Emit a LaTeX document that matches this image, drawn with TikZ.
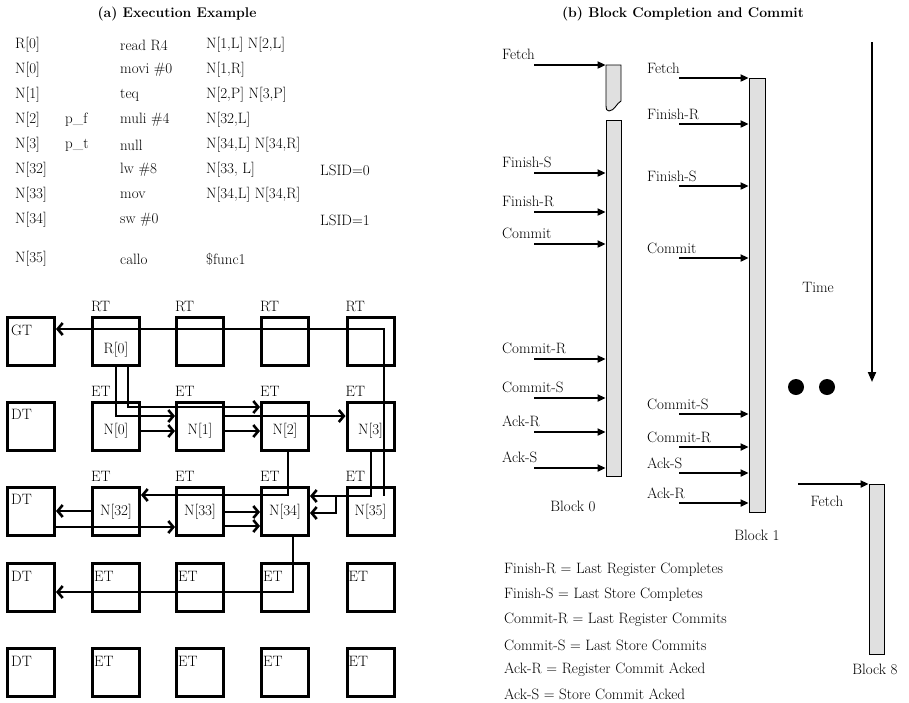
\documentclass[tikz,border=0pt]{standalone}
\usepackage{tikz}
\usetikzlibrary{positioning,arrows.meta,calc}
\newcommand{\dgtxt}{\fontsize{15}{17}\selectfont}
\newcommand{\dghead}{\fontsize{14}{16}\selectfont\bfseries}
\tikzset{
  tbox/.style={draw,line width=3pt,minimum width=47pt,minimum height=48pt,inner sep=0pt},
  tag/.style={font=\dgtxt,inner sep=0pt},
  garr/.style={line width=2pt,-{Straight Barb[length=5pt,width=12pt,line width=2.6pt]}},
  tarr/.style={line width=2.2pt,-{Triangle[length=8pt,width=7pt]}},
  bar/.style={draw,fill=black!12,line width=0.9pt,inner sep=0pt},
  lbl/.style={font=\dgtxt,inner sep=0pt},
  dot/.style={circle,fill=black,minimum size=16pt,inner sep=0pt},
}

\begin{document}
\begin{tikzpicture}[x=1pt,y=-1pt]
  \useasboundingbox (0,0) rectangle (909,702);
  % titles
  \node[font=\dghead] (ta) at (177,14) {(a) Execution Example};
  \node[font=\dghead] (tb) at (683,14) {(b) Block Completion and Commit};

  % instruction listing
  \node[lbl,anchor=west] (nm0) at (15,45) {R[0]};
  \node[lbl,anchor=west] (op0) at (120,45) {read R4};
  \node[lbl,anchor=west] (ds0) at (206,45) {N[1,L] N[2,L]};
  \node[lbl,anchor=west] (nm1) at (15,70) {N[0]};
  \node[lbl,anchor=west] (op1) at (120,70) {movi \#0};
  \node[lbl,anchor=west] (ds1) at (206,70) {N[1,R]};
  \node[lbl,anchor=west] (nm2) at (15,95) {N[1]};
  \node[lbl,anchor=west] (op2) at (120,95) {teq};
  \node[lbl,anchor=west] (ds2) at (206,95) {N[2,P] N[3,P]};
  \node[lbl,anchor=west] (nm3) at (15,120) {N[2]};
  \node[lbl,anchor=west] (pr3) at (65,120) {p\_f};
  \node[lbl,anchor=west] (op3) at (120,120) {muli \#4};
  \node[lbl,anchor=west] (ds3) at (206,120) {N[32,L]};
  \node[lbl,anchor=west] (nm4) at (15,145) {N[3]};
  \node[lbl,anchor=west] (pr4) at (65,145) {p\_t};
  \node[lbl,anchor=west] (op4) at (120,145) {null};
  \node[lbl,anchor=west] (ds4) at (206,145) {N[34,L] N[34,R]};
  \node[lbl,anchor=west] (nm5) at (15,170) {N[32]};
  \node[lbl,anchor=west] (op5) at (120,170) {lw \#8};
  \node[lbl,anchor=west] (ds5) at (206,170) {N[33, L]};
  \node[lbl,anchor=west] (ls5) at (320,170) {LSID=0};
  \node[lbl,anchor=west] (nm6) at (15,195) {N[33]};
  \node[lbl,anchor=west] (op6) at (120,195) {mov};
  \node[lbl,anchor=west] (ds6) at (206,195) {N[34,L] N[34,R]};
  \node[lbl,anchor=west] (nm7) at (15,220) {N[34]};
  \node[lbl,anchor=west] (op7) at (120,220) {sw \#0};
  \node[lbl,anchor=west] (ls7) at (320,220) {LSID=1};
  \node[lbl,anchor=west] (nm8) at (15,259) {N[35]};
  \node[lbl,anchor=west] (op8) at (120,259) {callo};
  \node[lbl,anchor=west] (ds8) at (206,259) {\$func1};

  % tile grid
  \foreach \r/\yy in {1/341,2/426,3/511,4/587.5,5/672.5}
    \foreach \c/\xx in {1/31,2/116,3/200,4/285,5/370.5}
      \node[tbox] (b\r\c) at (\xx,\yy) {};
  \node[tag,anchor=north west] (g11) at ($(b11.north west)+(5,9)$) {GT};
  \foreach \r in {2,3,4,5}
    \node[tag,anchor=north west] (g\r1) at ($(b\r1.north west)+(5,9)$) {DT};
  \foreach \r in {4,5}
    \foreach \c in {2,3,4,5}
      \node[tag,anchor=north west] (g\r\c) at ($(b\r\c.north west)+(3,9)$) {ET};
  \foreach \c in {2,3,4,5} {
    \node[tag,anchor=south west] (h1\c) at ($(b1\c.north west)+(0,-4)$) {RT};
    \node[tag,anchor=south west] (h2\c) at ($(b2\c.north west)+(0,-4)$) {ET};
    \node[tag,anchor=south west] (h3\c) at ($(b3\c.north west)+(0,-4)$) {ET};
  }
  \node[tag] (r0) at ($(b12)+(0,9)$) {R[0]};
  \node[tag] (n0) at ($(b22)+(0,5)$) {N[0]};
  \node[tag] (n1) at ($(b23)+(0,5)$) {N[1]};
  \node[tag] (n2) at ($(b24)+(0,5)$) {N[2]};
  \node[tag] (n3) at ($(b25)+(0,5)$) {N[3]};
  \node[tag] (n32) at ($(b32)+(0,1)$) {N[32]};
  \node[tag] (n33) at ($(b33)+(0,1)$) {N[33]};
  \node[tag] (n34) at ($(b34)+(0,1)$) {N[34]};
  \node[tag] (n35) at ($(b35)+(0,1)$) {N[35]};

  % dataflow between tiles
  \draw[garr] (b12.south) |- ($(b23.west)+(0,-10)$);
  \draw[garr] ($(b12.south)+(12,0)$) |- ($(b24.west)+(0,-19)$);
  \draw[garr] ($(b22.east)+(0,5)$) -- ($(b23.west)+(0,5)$);
  \draw[garr] ($(b23.east)+(0,5)$) -- ($(b24.west)+(0,5)$);
  \draw[garr] ($(b23.east)+(0,-10)$) -- ($(b25.west)+(0,-10)$);
  \draw[garr] ($(b24.south)+(3,0)$) |- ($(b32.east)+(0,-16)$);
  \draw[garr] (b32.west) -- (b31.east);
  \draw[garr] ($(b31.east)+(0,16)$) -- ($(b33.west)+(0,16)$);
  \draw[garr] ($(b33.east)+(0,1)$) -- ($(b34.west)+(0,1)$);
  \draw[garr] ($(b33.east)+(0,15)$) -- ($(b34.west)+(0,15)$);
  \draw[garr] (b25.south) |- ($(b34.east)+(0,-15)$);
  \coordinate (jn) at ($(b34.east)+(26,-15)$);
  \draw[garr] (jn) |- ($(b34.east)+(0,2)$);
  \draw[garr] ($(b35.north)+(13,10)$) |- ($(b11.east)+(0,-12)$);
  \draw[garr] ($(b34.south)+(8,0)$) |- ($(b41.east)+(0,4.5)$);

  % block 0
  \draw[bar] (606,65) -- (621,65) -- (621,101) .. controls (617,103) and (614,111) .. (609,111)
    .. controls (606.5,111) and (606,109) .. (606,106) -- cycle;
  \node[bar,minimum width=15pt,minimum height=356pt] (blk0) at (613.5,298) {};
  \foreach \lab/\yy/\i in {Fetch/65/1,Finish-S/173/2,Finish-R/212/3,Commit/244/4,
      Commit-R/359/5,Commit-S/398/6,Ack-R/432/7,Ack-S/468/8} {
    \coordinate (p\i) at (534,\yy);
    \draw[tarr] (p\i) -- (p\i -| blk0.west);
    \node[lbl,anchor=base west] (q\i) at (502,{\yy-6}) {\lab};
  }
  \node[lbl] (k0) at (573,506) {Block 0};

  % block 1
  \node[bar,minimum width=16pt,minimum height=434pt] (blk1) at (757,295) {};
  \foreach \lab/\yy/\i in {Fetch/78/1,Finish-R/124/2,Finish-S/186/3,Commit/258/4,
      Commit-S/414/5,Commit-R/447/6,Ack-S/473/7,Ack-R/503/8} {
    \coordinate (s\i) at (679,\yy);
    \draw[tarr] (s\i) -- (s\i -| blk1.west);
    \node[lbl,anchor=base west] (u\i) at (647,{\yy-5}) {\lab};
  }
  \node[lbl] (k1) at (757,535) {Block 1};

  % block 8
  \node[bar,minimum width=15pt,minimum height=170pt] (blk8) at (876.5,569) {};
  \coordinate (s9) at (798,484);
  \draw[tarr] (s9) -- (s9 -| blk8.west);
  \node[lbl] (u9) at (827,501) {Fetch};
  \node[lbl] (k8) at (875,669) {Block 8};

  % time axis
  \coordinate (t0) at (872,42);
  \coordinate (t1) at (872,382);
  \draw[line width=2pt,-{Triangle[length=10pt,width=8pt]}] (t0) -- (t1);
  \node[lbl] (tm) at (818,287) {Time};
  \node[dot] (d1) at (796,387) {};
  \node[dot] (d2) at (827,387) {};

  % legend
  \node[lbl,anchor=west] (lg1) at (504,570) {Finish-R = Last Register Completes};
  \node[lbl,anchor=west] (lg2) at (504,595) {Finish-S = Last Store Completes};
  \node[lbl,anchor=west] (lg3) at (504,620) {Commit-R = Last Register Commits};
  \node[lbl,anchor=west] (lg4) at (504,645) {Commit-S = Last Store Commits};
  \node[lbl,anchor=west] (lg5) at (504,670) {Ack-R = Register Commit Acked};
  \node[lbl,anchor=west] (lg6) at (504,694) {Ack-S = Store Commit Acked};
\end{tikzpicture}
\end{document}
